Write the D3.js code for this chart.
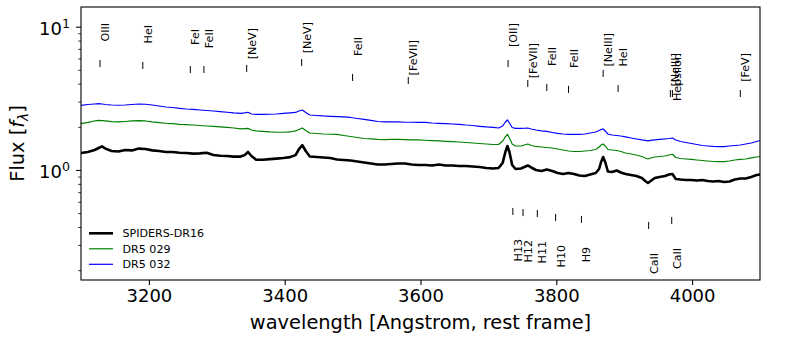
<!DOCTYPE html>
<html>
<head>
<meta charset="utf-8">
<script src="https://cdn.jsdelivr.net/npm/d3@7"></script>
<style>
body { margin: 0; background: #fff; }
text { font-family: "DejaVu Sans", sans-serif; fill: #000; }
</style>
</head>
<body>
<div id="chart"></div>
<script>

// rest-frame wavelength grid (Angstrom), shared by the three spectra
var wavelength = [
  3100, 3110, 3120, 3126, 3131, 3136, 3145, 3155, 3165, 3175,
  3185, 3195, 3205, 3215, 3225, 3235, 3245, 3255, 3265, 3275,
  3285, 3295, 3305, 3315, 3325, 3335, 3341, 3346, 3351, 3358,
  3368, 3378, 3388, 3398, 3408, 3416, 3421, 3426, 3431, 3437,
  3447, 3457, 3467, 3477, 3487, 3497, 3507, 3517, 3527, 3537,
  3547, 3557, 3567, 3577, 3587, 3597, 3607, 3617, 3627, 3637,
  3647, 3657, 3667, 3677, 3687, 3697, 3707, 3715, 3721, 3725,
  3728, 3731, 3735, 3740, 3748, 3753, 3758, 3763, 3770, 3778,
  3786, 3794, 3802, 3810, 3818, 3826, 3834, 3842, 3850, 3858,
  3863, 3866, 3869, 3872, 3876, 3882, 3889, 3895, 3902, 3910,
  3918, 3926, 3931, 3935, 3939, 3945, 3952, 3960, 3966, 3971,
  3976, 3983, 3991, 3999, 4007, 4015, 4023, 4031, 4039, 4047,
  4055, 4063, 4071, 4079, 4087, 4095, 4100
];

var fluxSpiders = [
  1.314, 1.335, 1.379, 1.424, 1.46, 1.41, 1.357, 1.346, 1.379, 1.37,
  1.41, 1.40, 1.37, 1.357, 1.335, 1.335, 1.32, 1.314, 1.30, 1.305,
  1.32, 1.272, 1.257, 1.252, 1.24, 1.24, 1.27, 1.335, 1.252, 1.18,
  1.18, 1.19, 1.20, 1.213, 1.23, 1.27, 1.40, 1.49, 1.357, 1.243,
  1.232, 1.222, 1.213, 1.184, 1.174, 1.165, 1.146, 1.128, 1.11, 1.092,
  1.092, 1.101, 1.11, 1.11, 1.092, 1.083, 1.083, 1.075, 1.092, 1.075,
  1.075, 1.066, 1.066, 1.058, 1.049, 1.033, 1.024, 1.033, 1.12, 1.335,
  1.47, 1.335, 1.083, 1.016, 1.024, 1.049, 1.075, 1.041, 1.0, 0.984,
  1.008, 0.984, 0.953, 0.938, 0.953, 0.938, 0.915, 0.908, 0.93, 0.953,
  1.016, 1.137, 1.232, 1.137, 0.976, 0.968, 0.992, 0.961, 0.938, 0.923,
  0.908, 0.880, 0.838, 0.812, 0.838, 0.880, 0.894, 0.908, 0.93, 0.938,
  0.865, 0.858, 0.852, 0.852, 0.845, 0.852, 0.838, 0.832, 0.838, 0.825,
  0.832, 0.858, 0.872, 0.872, 0.894, 0.923, 0.93
];

var fluxDr5029 = [
  2.105, 2.146, 2.198, 2.216, 2.21, 2.198, 2.174, 2.163, 2.18, 2.198,
  2.21, 2.198, 2.163, 2.139, 2.118, 2.105, 2.084, 2.071, 2.06, 2.044,
  2.028, 2.012, 1.996, 1.98, 1.964, 1.933, 1.943, 1.95, 1.902, 1.872,
  1.857, 1.842, 1.833, 1.833, 1.842, 1.872, 1.918, 1.964, 1.887, 1.812,
  1.797, 1.783, 1.775, 1.77, 1.741, 1.713, 1.686, 1.659, 1.646, 1.633,
  1.628, 1.633, 1.633, 1.628, 1.62, 1.62, 1.612, 1.602, 1.594, 1.586,
  1.576, 1.568, 1.555, 1.543, 1.53, 1.518, 1.506, 1.506, 1.594, 1.70,
  1.775, 1.672, 1.518, 1.47, 1.47, 1.494, 1.518, 1.482, 1.459, 1.447,
  1.435, 1.424, 1.401, 1.379, 1.357, 1.346, 1.346, 1.357, 1.368, 1.39,
  1.447, 1.494, 1.518, 1.47, 1.39, 1.379, 1.368, 1.346, 1.314, 1.293,
  1.272, 1.242, 1.213, 1.193, 1.213, 1.232, 1.242, 1.252, 1.272, 1.287,
  1.222, 1.203, 1.193, 1.184, 1.174, 1.165, 1.155, 1.146, 1.142, 1.142,
  1.155, 1.174, 1.184, 1.193, 1.213, 1.232, 1.242
];

var fluxDr5032 = [
  2.82, 2.865, 2.888, 2.90, 2.888, 2.865, 2.842, 2.83, 2.842, 2.865,
  2.888, 2.875, 2.842, 2.797, 2.752, 2.73, 2.695, 2.665, 2.645, 2.622,
  2.60, 2.58, 2.553, 2.528, 2.50, 2.48, 2.50, 2.528, 2.459, 2.44,
  2.44, 2.448, 2.459, 2.48, 2.50, 2.52, 2.58, 2.622, 2.52, 2.42,
  2.40, 2.382, 2.37, 2.355, 2.344, 2.325, 2.288, 2.252, 2.216, 2.18,
  2.163, 2.163, 2.163, 2.153, 2.153, 2.146, 2.146, 2.128, 2.118, 2.105,
  2.094, 2.084, 2.06, 2.044, 2.018, 1.996, 1.98, 1.964, 2.028, 2.163,
  2.234, 2.128, 1.98, 1.95, 1.95, 1.955, 1.964, 1.933, 1.902, 1.872,
  1.857, 1.827, 1.80, 1.783, 1.77, 1.77, 1.77, 1.783, 1.812, 1.842,
  1.887, 1.918, 1.933, 1.872, 1.783, 1.755, 1.741, 1.727, 1.70, 1.672,
  1.646, 1.62, 1.607, 1.594, 1.607, 1.62, 1.633, 1.646, 1.659, 1.672,
  1.62, 1.581, 1.555, 1.53, 1.506, 1.482, 1.47, 1.459, 1.455, 1.455,
  1.47, 1.482, 1.494, 1.518, 1.543, 1.581, 1.607
];

var seriesNames = ['SPIDERS-DR16', 'DR5 029', 'DR5 032'];

// emission line markers (label, wavelength, flux at the foot of the marker)
var emissionNames = ['OIII', 'HeI', 'FeI', 'FeII', '[NeV]', '[NeV]', 'FeII', '[FeVII]', '[OII]',
                     '[FeVII]', 'FeII', 'FeII', '[NeIII]', 'HeI', '[NeIII]', 'Hepsilon', '[FeV]'];
var emissionWave  = [3128, 3191, 3261, 3281, 3344, 3425, 3500, 3582, 3729,
                     3758, 3786, 3818, 3869, 3891, 3968, 3971, 4071];
var emissionFlux  = [5.23, 5.07, 4.75, 4.75, 4.83, 5.32, 4.18, 3.98, 5.23,
                     3.80, 3.56, 3.45, 4.46, 3.50, 3.23, 3.23, 3.23];

// absorption line markers (label, wavelength, flux at the top of the marker)
var absorptionNames = ['H13', 'H12', 'H11', 'H10', 'H9', 'CaII', 'CaII'];
var absorptionWave  = [3736, 3751, 3772, 3799, 3837, 3936, 3970];
var absorptionFlux  = [0.543, 0.534, 0.526, 0.493, 0.478, 0.434, 0.470];

var xTicks = [3200, 3400, 3600, 3800, 4000];
var yMajorTicks = [1, 10];
var yTickExponents = ['0', '1'];
var yMinorTicks = [0.2, 0.3, 0.4, 0.5, 0.6, 0.7, 0.8, 0.9, 2, 3, 4, 5, 6, 7, 8, 9];

// plot box in pixels ("top" is taken by window.top, so prefix the names)
var plotLeft = 81, plotRight = 760, plotTop = 7, plotBottom = 280;

var x = d3.scaleLinear().domain([3100, 4100]).range([plotLeft, plotRight]);
var y = d3.scaleLog().domain([0.1707, 13.72]).range([plotBottom, plotTop]);

var svg = d3.select('#chart').append('svg')
    .attr('width', 800)
    .attr('height', 350);

svg.append('clipPath').attr('id', 'plotclip')
  .append('rect')
    .attr('x', plotLeft).attr('y', plotTop)
    .attr('width', plotRight - plotLeft).attr('height', plotBottom - plotTop);

var line = d3.line()
    .x(function(d, i) { return x(wavelength[i]); })
    .y(function(d) { return y(d); });

var series = [
  {name: seriesNames[0], values: fluxSpiders, color: '#000000', width: 2.6},
  {name: seriesNames[1], values: fluxDr5029, color: '#008000', width: 1.2},
  {name: seriesNames[2], values: fluxDr5032, color: '#0000ff', width: 1.2}
];

var plot = svg.append('g').attr('clip-path', 'url(#plotclip)');
series.forEach(function(s) {
  plot.append('path')
      .datum(s.values)
      .attr('d', line)
      .attr('fill', 'none')
      .attr('stroke', s.color)
      .attr('stroke-width', s.width)
      .attr('stroke-linejoin', 'round');
});

// emission markers: short tick, vertical label ending 44px above the tick foot
emissionNames.forEach(function(name, i) {
  var tx = x(emissionWave[i]), ty = y(emissionFlux[i]);
  svg.append('line')
      .attr('x1', tx).attr('x2', tx)
      .attr('y1', ty).attr('y2', ty - 7)
      .attr('stroke', '#000').attr('stroke-width', 1);
  svg.append('text')
      .attr('transform', 'translate(' + (tx + 9) + ',' + (ty - 44) + ') rotate(-90)')
      .attr('text-anchor', 'end')
      .style('font-size', '11.1px')
      .text(name);
});

absorptionNames.forEach(function(name, i) {
  var tx = x(absorptionWave[i]), ty = y(absorptionFlux[i]);
  svg.append('line')
      .attr('x1', tx).attr('x2', tx)
      .attr('y1', ty).attr('y2', ty + 7)
      .attr('stroke', '#000').attr('stroke-width', 1);
  svg.append('text')
      .attr('transform', 'translate(' + (tx + 9) + ',' + (ty + 31) + ') rotate(-90)')
      .attr('text-anchor', 'end')
      .style('font-size', '11.1px')
      .text(name);
});

// x axis
var xAxis = d3.axisBottom(x)
    .tickValues(xTicks)
    .tickSize(4.9)
    .tickPadding(4.5)
    .tickFormat(d3.format('d'));

var gx = svg.append('g')
    .attr('transform', 'translate(0,' + plotBottom + ')')
    .call(xAxis);
gx.select('.domain').remove();
gx.selectAll('line').attr('stroke', '#000').attr('stroke-width', 1.1);
gx.selectAll('text').style('font-size', '18px').style('font-family', '"DejaVu Sans", sans-serif');

// y axis (log): minor ticks from the axis, major labels as 10^n
var gyMinor = svg.append('g')
    .attr('transform', 'translate(' + plotLeft + ',0)')
    .call(d3.axisLeft(y).tickValues(yMinorTicks).tickSize(2.8).tickFormat(''));
gyMinor.select('.domain').remove();
gyMinor.selectAll('line').attr('stroke', '#000').attr('stroke-width', 0.8);

var gyMajor = svg.append('g')
    .attr('transform', 'translate(' + plotLeft + ',0)')
    .call(d3.axisLeft(y).tickValues(yMajorTicks).tickSize(4.9).tickFormat(''));
gyMajor.select('.domain').remove();
gyMajor.selectAll('line').attr('stroke', '#000').attr('stroke-width', 1.1);

yMajorTicks.forEach(function(v, i) {
  var t = svg.append('text')
      .attr('x', 70)
      .attr('y', y(v) + 8)
      .attr('text-anchor', 'end')
      .style('font-size', '18px');
  t.append('tspan').text('10');
  t.append('tspan').attr('dy', -6.7).style('font-size', '12.6px').text(yTickExponents[i]);
});

// frame
svg.append('rect')
    .attr('x', plotLeft).attr('y', plotTop)
    .attr('width', plotRight - plotLeft).attr('height', plotBottom - plotTop)
    .attr('fill', 'none')
    .attr('stroke', '#000')
    .attr('stroke-width', 1.1);

// axis titles
svg.append('text')
    .attr('x', (plotLeft + plotRight) / 2)
    .attr('y', 329)
    .attr('text-anchor', 'middle')
    .style('font-size', '19.4px')
    .text('wavelength [Angstrom, rest frame]');

var yl = svg.append('text')
    .attr('transform', 'translate(23.5,' + ((plotTop + plotBottom) / 2) + ') rotate(-90)')
    .attr('text-anchor', 'middle')
    .style('font-size', '19.4px');
yl.append('tspan').text('Flux [');
yl.append('tspan').style('font-style', 'italic').text('f');
yl.append('tspan').style('font-style', 'italic').style('font-size', '13.6px').attr('dy', 4).text('\u03bb');
yl.append('tspan').attr('dy', -4).text(']');

// legend
var legend = svg.append('g');
series.forEach(function(s, i) {
  var ly = 233.3 + i * 15.5;
  legend.append('line')
      .attr('x1', 89).attr('x2', 113)
      .attr('y1', ly).attr('y2', ly)
      .attr('stroke', s.color)
      .attr('stroke-width', s.width);
  legend.append('text')
      .attr('x', 122.5)
      .attr('y', ly)
      .attr('dy', '0.36em')
      .style('font-size', '11.1px')
      .text(s.name);
});

</script>
</body>
</html>
